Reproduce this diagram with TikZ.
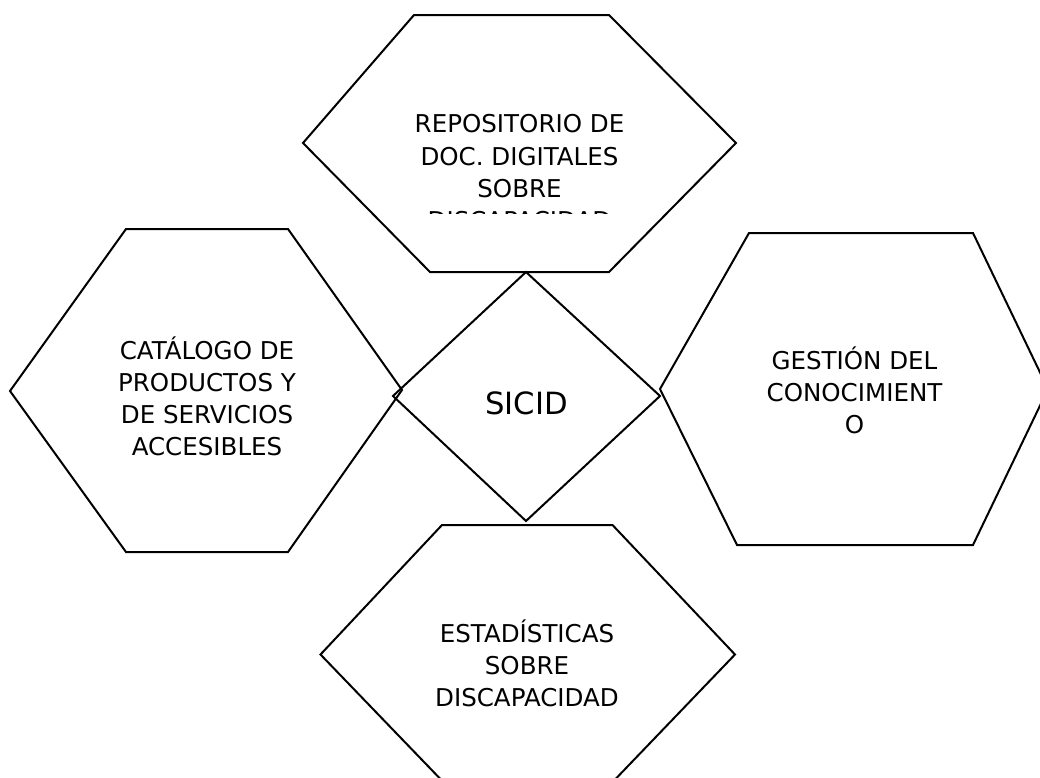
\documentclass[tikz,border=0pt]{standalone}
\usepackage{fontspec}
\setmainfont{DejaVu Sans}
\tikzset{
  hexa/.style={draw=black,line width=1.5pt,line join=miter},
  lbl/.style={align=center,font=\fontsize{18.4}{23.9}\selectfont,text=black,inner sep=0pt}
}
\begin{document}
\begin{tikzpicture}[x=0.75pt,y=-0.75pt]
\useasboundingbox (0,0) rectangle (1040,778);
\clip (0,0) rectangle (1040,778);
\draw[hexa] (303,143)--(414,15)--(609,15)--(736,143)--(609,272)--(430,272)--cycle;
\draw[hexa] (10,391)--(126,229)--(288,229)--(402,390)--(288,552)--(126,552)--cycle;
\draw[hexa] (660,389)--(749,233)--(973,233)--(1048,389)--(973,545)--(737,545)--cycle;
\draw[hexa] (320.5,654.5)--(442,525)--(612.5,525)--(735,654.5)--(605,790)--(451,790)--cycle;
\draw[hexa] (526,272)--(660,396)--(526,521)--(393,396)--cycle;
\node[lbl] (rep) at (519.5,124) {REPOSITORIO DE};
\node[lbl] (doc) at (519.5,156.5) {DOC. DIGITALES};
\node[lbl] (sob) at (519.5,189) {SOBRE};
\begin{scope}
\clip (380,205) rectangle (660,213);
\node[lbl] (dis) at (519.5,221) {DISCAPACIDAD};
\end{scope}
\node[lbl] (cat) at (207,396) {CATÁLOGO DE\\[0pt]PRODUCTOS Y\\[0pt]DE SERVICIOS\\[0pt]ACCESIBLES};
\node[lbl] (ges) at (854.5,390) {GESTIÓN DEL\\[0pt]CONOCIMIENT\\[0pt]O};
\node[lbl] (est) at (527,663.5) {ESTADÍSTICAS\\[0pt]SOBRE\\[0pt]DISCAPACIDAD};
\node[lbl,font=\fontsize{23}{27}\selectfont] (sic) at (526.5,403) {SICID};
\end{tikzpicture}
\end{document}
